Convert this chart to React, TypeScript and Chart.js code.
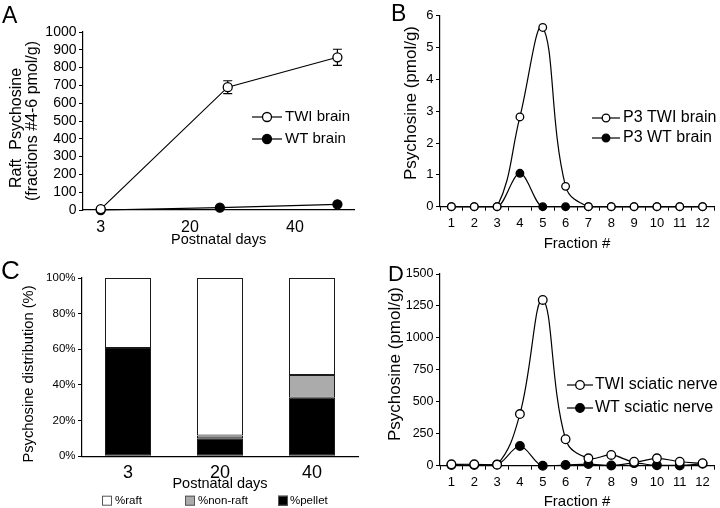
import React, { useEffect, useRef } from 'react';
import { Chart, registerables } from 'chart.js';

Chart.register(...registerables);

const FONT = "'Liberation Sans', Arial, Helvetica, sans-serif";

// ---------- Panel A ----------
const aXTicks = [3, 20, 40];
const aTwiDays = [3, 27.2, 48.1];
const aTwiValues = [5, 690, 858];
const aTwiErrors = [0, 36, 45];
const aWtDays = [3, 25.7, 48.1];
const aWtValues = [0, 13, 32];

// ---------- Panel B ----------
const fractions = ['1', '2', '3', '4', '5', '6', '7', '8', '9', '10', '11', '12'];
const bTwiValues = [0, 0, 0, 2.82, 5.63, 0.64, 0, 0, 0, 0, 0, 0];
const bWtValues = [0, 0, 0, 1.05, 0, 0, 0, 0, 0, 0, 0, 0];

// ---------- Panel C ----------
const cDays = ['3', '20', '40'];
const cPellet = [60.8, 10.1, 32.9];
const cNonRaft = [0, 1.5, 12.7];
const cRaft = [39.2, 88.4, 54.4];

// ---------- Panel D ----------
const dTwiValues = [11, 11, 8, 404, 1297, 207, 58, 84, 31, 58, 31, 19];
const dWtValues = [5, 5, 10, 154, 0, 5, 13, 2, 20, 3, 2, 15];

const errorBarsPlugin: any = {
  id: 'errorBars',
  beforeDatasetsDraw(chart: any) {
    const ctx = chart.ctx;
    const yScale = chart.scales.y;
    chart.data.datasets.forEach((ds: any, i: number) => {
      if (!ds.errors) return;
      const meta = chart.getDatasetMeta(i);
      ctx.save();
      ctx.strokeStyle = '#000';
      ctx.lineWidth = 1.2;
      meta.data.forEach((pt: any, j: number) => {
        const e = ds.errors[j];
        if (!e) return;
        const v = ds.data[j].y;
        const yTop = yScale.getPixelForValue(v + e);
        const yBot = yScale.getPixelForValue(v - e);
        const x = pt.x;
        const cap = 4.5;
        ctx.beginPath();
        ctx.moveTo(x, yTop);
        ctx.lineTo(x, yBot);
        ctx.moveTo(x - cap, yTop);
        ctx.lineTo(x + cap, yTop);
        ctx.moveTo(x - cap, yBot);
        ctx.lineTo(x + cap, yBot);
        ctx.stroke();
      });
      ctx.restore();
    });
  },
};

// vertical (rotated) y-axis title drawn at a given place beside the axis
const yTitlePlugin: any = {
  id: 'yTitle',
  afterDraw(chart: any, _args: any, opts: any) {
    if (!opts || !opts.lines) return;
    const ctx = chart.ctx;
    ctx.save();
    ctx.font = `${opts.fontSize}px ${FONT}`;
    ctx.fillStyle = '#000';
    ctx.textAlign = 'center';
    ctx.textBaseline = 'middle';
    const lines: string[] = opts.lines;
    const ys: number[] = opts.centerY;
    lines.forEach((line: string, i: number) => {
      ctx.save();
      ctx.translate(opts.x + i * opts.lineGap, ys[i]);
      ctx.rotate(-Math.PI / 2);
      ctx.fillText(line, 0, 0);
      ctx.restore();
    });
    ctx.restore();
  },
};

const inlineLegendPlugin: any = {
  id: 'inlineLegend',
  afterDatasetsDraw(chart: any, _args: any, opts: any) {
    if (!opts || !opts.mode) return;
    const ctx = chart.ctx;
    const datasets = chart.data.datasets;
    ctx.save();
    ctx.font = `${opts.fontSize}px ${FONT}`;
    ctx.textBaseline = 'middle';
    ctx.textAlign = 'left';
    const order: number[] = opts.order;
    order.forEach((di: number, k: number) => {
      const ds: any = datasets[di];
      if (opts.mode === 'line') {
        const y = opts.rowY[k];
        ctx.strokeStyle = ds.borderColor;
        ctx.lineWidth = ds.borderWidth;
        ctx.beginPath();
        ctx.moveTo(opts.lineX0, y);
        ctx.lineTo(opts.lineX1, y);
        ctx.stroke();
        ctx.beginPath();
        ctx.arc(opts.markerX, y, ds.pointRadius, 0, Math.PI * 2);
        ctx.fillStyle = ds.pointBackgroundColor;
        ctx.fill();
        ctx.lineWidth = ds.pointBorderWidth;
        ctx.strokeStyle = ds.pointBorderColor;
        ctx.stroke();
        ctx.fillStyle = '#000';
        ctx.fillText(ds.label, opts.textX, y);
      } else {
        const x = opts.boxX[k];
        const y = opts.y;
        const s = opts.boxSize;
        ctx.fillStyle = ds.backgroundColor;
        ctx.fillRect(x, y - s / 2, s, s);
        ctx.strokeStyle = '#555';
        ctx.lineWidth = 1;
        ctx.strokeRect(x + 0.5, y - s / 2 + 0.5, s - 1, s - 1);
        ctx.fillStyle = '#000';
        ctx.fillText(ds.label, opts.textX[k], y);
      }
    });
    ctx.restore();
  },
};

const W = 360;
const H = 254;

function lineDs(label: string, data: any[], open: boolean, radius: number, extra: any = {}) {
  return {
    label,
    data,
    borderColor: '#000',
    borderWidth: 1.2,
    pointRadius: radius,
    pointHoverRadius: radius,
    pointBackgroundColor: open ? '#fff' : '#000',
    pointBorderColor: '#000',
    pointBorderWidth: 1.3,
    fill: false,
    clip: false,
    ...extra,
  };
}

const plainNumber = (v: any) => String(v);

function yAxis(L: number, min: number, max: number, step: number, fontSize: number, cb: any = plainNumber) {
  return {
    type: 'linear',
    min,
    max,
    afterFit: (s: any) => {
      s.width = L;
    },
    grid: { display: true, drawOnChartArea: false, drawTicks: true, tickLength: 4, color: '#000', lineWidth: 1 },
    border: { display: true, color: '#000', width: 1.2 },
    ticks: {
      stepSize: step,
      autoSkip: false,
      color: '#000',
      padding: 2.5,
      font: { family: FONT, size: fontSize },
      callback: cb,
    },
    title: { display: false },
  };
}

function configA(): any {
  const L = 83, T = 32, R = 358, B = 210;
  return {
    type: 'line',
    data: {
      datasets: [
        lineDs('TWI brain', aTwiDays.map((d, i) => ({ x: d, y: aTwiValues[i] })), true, 4.5, { errors: aTwiErrors }),
        lineDs('WT brain', aWtDays.map((d, i) => ({ x: d, y: aWtValues[i] })), false, 4.5),
      ],
    },
    options: {
      responsive: false,
      animation: false,
      events: [],
      layout: { padding: { left: 0, top: T, right: W - R, bottom: 0 } },
      plugins: {
        legend: { display: false },
        tooltip: { enabled: false },
        inlineLegend: { mode: 'line', order: [0, 1], rowY: [117, 139], lineX0: 252, lineX1: 282, markerX: 267, textX: 285, fontSize: 15 },
        yTitle: { lines: ['Raft  Psychosine', '(fractions #4-6 pmol/g)'], fontSize: 16, x: 17, lineGap: 16, centerY: [128, 121] },
      },
      scales: {
        x: {
          type: 'linear',
          min: -0.38,
          max: 51.3,
          afterBuildTicks: (s: any) => {
            s.ticks = aXTicks.map((v) => ({ value: v }));
          },
          afterFit: (s: any) => {
            s.height = H - B;
          },
          grid: { display: false, drawTicks: false },
          border: { display: true, color: '#000', width: 1.2 },
          ticks: { color: '#000', autoSkip: false, maxRotation: 0, padding: 8, font: { family: FONT, size: 16 }, callback: plainNumber },
          title: { display: true, text: 'Postnatal days', color: '#000', font: { family: FONT, size: 14.5, lineHeight: 1.2 }, padding: { top: 0, bottom: 5.3 } },
        },
        y: yAxis(L, 0, 1000, 100, 14),
      },
    },
    plugins: [errorBarsPlugin, inlineLegendPlugin, yTitlePlugin],
  };
}

function fractionX(B: number, titlePadBottom: number) {
  return {
    type: 'category',
    offset: true,
    afterFit: (s: any) => {
      s.height = H - B;
    },
    grid: { display: true, offset: true, drawOnChartArea: false, drawTicks: true, tickLength: 4, color: '#000', lineWidth: 1 },
    border: { display: true, color: '#000', width: 1.2 },
    ticks: { color: '#000', autoSkip: false, maxRotation: 0, padding: 5, font: { family: FONT, size: 13 } },
    title: { display: true, text: 'Fraction #', color: '#000', font: { family: FONT, size: 15, lineHeight: 1 }, padding: { top: 0, bottom: titlePadBottom } },
  };
}

function configB(): any {
  const L = 80, T = 15.7, R = 354, B = 206.7;
  return {
    type: 'line',
    data: {
      labels: fractions,
      datasets: [
        lineDs('P3 TWI brain', bTwiValues, true, 3.8, { tension: 0.4 }),
        lineDs('P3 WT brain', bWtValues, false, 3.8, { cubicInterpolationMode: 'monotone' }),
      ],
    },
    options: {
      responsive: false,
      animation: false,
      events: [],
      layout: { padding: { left: 0, top: T, right: W - R, bottom: 0 } },
      plugins: {
        legend: { display: false },
        tooltip: { enabled: false },
        inlineLegend: { mode: 'line', order: [0, 1], rowY: [118, 138], lineX0: 232, lineX1: 260, markerX: 246, textX: 263, fontSize: 16 },
        yTitle: { lines: ['Psychosine (pmol/g)'], fontSize: 17, x: 51, lineGap: 0, centerY: [103] },
      },
      scales: {
        x: fractionX(B, 3),
        y: yAxis(L, 0, 6, 1, 13),
      },
    },
    plugins: [inlineLegendPlugin, yTitlePlugin],
  };
}

function configC(): any {
  const L = 82, T = 24, R = 358, B = 202.3;
  const barDs = (label: string, data: number[], color: string) => ({
    label,
    data,
    backgroundColor: color,
    borderColor: '#1a1a1a',
    borderWidth: 1,
    borderSkipped: false,
    barPercentage: 0.5,
    categoryPercentage: 1,
  });
  return {
    type: 'bar',
    data: {
      labels: cDays,
      datasets: [
        barDs('%pellet', cPellet, '#000000'),
        barDs('%non-raft', cNonRaft, '#ababab'),
        barDs('%raft', cRaft, '#ffffff'),
      ],
    },
    options: {
      responsive: false,
      animation: false,
      events: [],
      layout: { padding: { left: 0, top: T, right: W - R, bottom: 0 } },
      plugins: {
        legend: { display: false },
        tooltip: { enabled: false },
        inlineLegend: { mode: 'box', order: [2, 1, 0], boxX: [102, 185, 278], textX: [115, 198, 290], y: 246.7, boxSize: 10, fontSize: 11.5 },
        yTitle: { lines: ['Psychosine distribution (%)'], fontSize: 14.7, x: 29, lineGap: 0, centerY: [120] },
      },
      scales: {
        x: {
          type: 'category',
          stacked: true,
          afterFit: (s: any) => {
            s.height = H - B;
          },
          grid: { display: false, drawTicks: false },
          border: { display: true, color: '#000', width: 1.2 },
          ticks: { color: '#000', autoSkip: false, maxRotation: 0, padding: 6, font: { family: FONT, size: 18 } },
          title: { display: true, text: 'Postnatal days', color: '#000', font: { family: FONT, size: 14.5, lineHeight: 1.2 }, padding: { top: 0, bottom: 15 } },
        },
        y: { ...yAxis(L, 0, 100, 20, 11.5, (v: any) => v + '%'), stacked: true },
      },
    },
    plugins: [inlineLegendPlugin, yTitlePlugin],
  };
}

function configD(): any {
  const L = 80, T = 20, R = 354, B = 211.7;
  return {
    type: 'line',
    data: {
      labels: fractions,
      datasets: [
        lineDs('TWI sciatic nerve', dTwiValues, true, 4.3, { tension: 0.4 }),
        lineDs('WT sciatic nerve', dWtValues, false, 4.3, { cubicInterpolationMode: 'monotone' }),
      ],
    },
    options: {
      responsive: false,
      animation: false,
      events: [],
      layout: { padding: { left: 0, top: T, right: W - R, bottom: 0 } },
      plugins: {
        legend: { display: false },
        tooltip: { enabled: false },
        inlineLegend: { mode: 'line', order: [0, 1], rowY: [131, 154], lineX0: 207, lineX1: 233, markerX: 220, textX: 235, fontSize: 16 },
        yTitle: { lines: ['Psychosine (pmol/g)'], fontSize: 17, x: 35, lineGap: 0, centerY: [110] },
      },
      scales: {
        x: fractionX(B, -1),
        y: yAxis(L, 0, 1500, 250, 12.5),
      },
    },
    plugins: [inlineLegendPlugin, yTitlePlugin],
  };
}

function Panel({ left, top, make }: { left: number; top: number; make: () => any }) {
  const ref = useRef<HTMLCanvasElement>(null);
  useEffect(() => {
    const chart = new Chart(ref.current as HTMLCanvasElement, make());
    return () => chart.destroy();
  }, []);
  return (
    <canvas
      ref={ref}
      width={W}
      height={H}
      style={{ position: 'absolute', left, top, width: W, height: H, display: 'block' }}
    />
  );
}

const letterStyle = (left: number, top: number, size: number): React.CSSProperties => ({
  position: 'absolute',
  left,
  top,
  fontFamily: FONT,
  fontSize: size,
  lineHeight: `${size}px`,
  color: '#000',
});

export default function App() {
  return (
    <div style={{ position: 'absolute', left: 0, top: 0, width: 720, height: 508, background: '#fff', overflow: 'hidden' }}>
      <Panel left={0} top={0} make={configA} />
      <Panel left={360} top={0} make={configB} />
      <Panel left={0} top={254} make={configC} />
      <Panel left={360} top={254} make={configD} />
      <div style={letterStyle(2, 3.6, 23)}>A</div>
      <div style={letterStyle(391, 2, 23)}>B</div>
      <div style={letterStyle(1, 257, 26)}>C</div>
      <div style={letterStyle(388, 263, 22)}>D</div>
    </div>
  );
}
